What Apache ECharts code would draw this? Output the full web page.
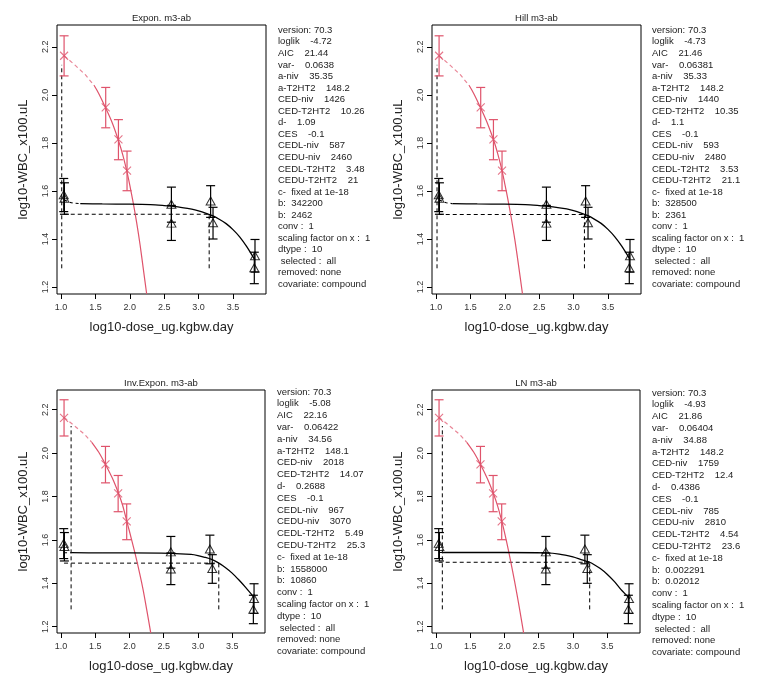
<!DOCTYPE html>
<html>
<head>
<meta charset="utf-8">
<script src="https://cdn.jsdelivr.net/npm/echarts@6/dist/echarts.min.js"></script>
<style>
html,body{margin:0;padding:0;background:#fff;}
#chart{width:762px;height:687px;}
</style>
</head>
<body>
<div id="chart"></div>
<script>
// ---------- data ----------
const panelTitles = ['Expon. m3-ab', 'Hill m3-ab', 'Inv.Expon. m3-ab', 'LN m3-ab'];
const xTicks = [1.0, 1.5, 2.0, 2.5, 3.0, 3.5];
const yTicks = [1.2, 1.4, 1.6, 1.8, 2.0, 2.2];
const xTitle = 'log10-dose_ug.kgbw.day';
const yTitle = 'log10-WBC_x100.uL';

// T2HT2 group (red crosses)
const redDose = [1.045, 1.65, 1.835, 1.96];
const redResp = [2.163, 1.948, 1.815, 1.685];
const redLow  = [2.079, 1.863, 1.730, 1.601];
const redHigh = [2.246, 2.031, 1.897, 1.766];

// niv group (black triangles)
const blackDose = [1.04, 1.05, 2.605, 2.605, 3.175, 3.21, 3.82, 3.81];
const blackResp = [1.584, 1.570, 1.545, 1.466, 1.558, 1.468, 1.330, 1.280];
const blackLow  = [1.514, 1.503, 1.470, 1.394, 1.490, 1.400, 1.262, 1.214];
const blackHigh = [1.652, 1.634, 1.616, 1.540, 1.622, 1.532, 1.398, 1.345];

// fitted curves, one pair per model
const expRedX = [1.045, 1.2, 1.35, 1.48, 1.55, 1.65, 1.75, 1.84, 1.9, 1.96, 2.0, 2.05, 2.1, 2.15, 2.2, 2.245];
const expRedY = [2.163, 2.125, 2.085, 2.04, 2.005, 1.945, 1.88, 1.806, 1.748, 1.678, 1.624, 1.55, 1.468, 1.375, 1.268, 1.172];
const expBlackX = [1.045, 1.15, 1.28, 1.6, 2.0, 2.3, 2.5, 2.7, 2.9, 3.0, 3.1, 3.2, 3.3, 3.4, 3.5, 3.6, 3.7, 3.82];
const expBlackY = [1.562, 1.551, 1.547, 1.546, 1.545, 1.543, 1.539, 1.534, 1.524, 1.517, 1.508, 1.497, 1.482, 1.464, 1.439, 1.408, 1.368, 1.312];

const hillRedX = [1.045, 1.2, 1.35, 1.48, 1.55, 1.65, 1.75, 1.84, 1.9, 1.96, 2.0, 2.05, 2.1, 2.15, 2.2, 2.257];
const hillRedY = [2.163, 2.125, 2.085, 2.04, 2.005, 1.945, 1.88, 1.81, 1.752, 1.685, 1.63, 1.558, 1.478, 1.39, 1.29, 1.172];
const hillBlackX = [1.045, 1.15, 1.24, 1.6, 2.0, 2.3, 2.5, 2.7, 2.9, 3.0, 3.1, 3.2, 3.3, 3.4, 3.5, 3.6, 3.7, 3.82];
const hillBlackY = [1.562, 1.551, 1.547, 1.546, 1.545, 1.543, 1.539, 1.534, 1.525, 1.518, 1.509, 1.498, 1.483, 1.465, 1.44, 1.409, 1.37, 1.315];

const invRedX = [1.045, 1.2, 1.35, 1.45, 1.55, 1.65, 1.75, 1.84, 1.9, 1.96, 2.0, 2.08, 2.15, 2.2, 2.26, 2.311];
const invRedY = [2.165, 2.125, 2.085, 2.05, 2.005, 1.948, 1.885, 1.815, 1.76, 1.688, 1.64, 1.54, 1.445, 1.37, 1.265, 1.172];
const invBlackX = [1.045, 1.148, 1.6, 2.0, 2.6, 2.9, 3.0, 3.1, 3.2, 3.3, 3.4, 3.5, 3.6, 3.7, 3.82];
const invBlackY = [1.541, 1.541, 1.54, 1.54, 1.538, 1.533, 1.528, 1.52, 1.51, 1.494, 1.473, 1.447, 1.415, 1.38, 1.335];

const lnRedX = [1.045, 1.2, 1.35, 1.45, 1.55, 1.65, 1.75, 1.84, 1.9, 1.96, 2.0, 2.06, 2.12, 2.18, 2.23, 2.28];
const lnRedY = [2.165, 2.125, 2.085, 2.05, 2.005, 1.948, 1.883, 1.813, 1.757, 1.688, 1.636, 1.55, 1.455, 1.355, 1.265, 1.172];
const lnBlackX = [1.045, 1.093, 1.6, 2.0, 2.6, 2.8, 3.0, 3.1, 3.2, 3.245, 3.3, 3.4, 3.5, 3.6, 3.7, 3.83];
const lnBlackY = [1.542, 1.542, 1.542, 1.542, 1.540, 1.535, 1.522, 1.512, 1.501, 1.497, 1.488, 1.468, 1.442, 1.41, 1.372, 1.33];

// where each fitted curve turns from dashed to solid
const redSolidFrom   = [1.48, 1.48, 1.45, 1.45];
const blackSolidFrom = [1.28, 1.24, 1.148, 1.093];

// CED / CES reference values (log10 scale)
const cedT2  = [1.011, 1.015, 1.148, 1.093];
const cedNiv = [3.154, 3.158, 3.305, 3.245];
const cesT2  = [2.125, 2.125, 2.125, 2.125];
const cesNiv = [1.503, 1.502, 1.493, 1.497];
const dropFoot = [1.278, 1.278, 1.280, 1.280];
const hStart = [1.04, 1.04, 1.045, 1.04];

// info texts
const expInfo = ['version: 70.3', 'loglik    -4.72', 'AIC    21.44', 'var-    0.0638', 'a-niv    35.35', 'a-T2HT2    148.2',
  'CED-niv    1426', 'CED-T2HT2    10.26', 'd-    1.09', 'CES    -0.1', 'CEDL-niv    587', 'CEDU-niv    2460',
  'CEDL-T2HT2    3.48', 'CEDU-T2HT2    21', 'c-  fixed at 1e-18', 'b:  342200', 'b:  2462', 'conv :  1',
  'scaling factor on x :  1', 'dtype :  10', ' selected :  all', 'removed: none', 'covariate: compound'];
const hillInfo = ['version: 70.3', 'loglik    -4.73', 'AIC    21.46', 'var-    0.06381', 'a-niv    35.33', 'a-T2HT2    148.2',
  'CED-niv    1440', 'CED-T2HT2    10.35', 'd-    1.1', 'CES    -0.1', 'CEDL-niv    593', 'CEDU-niv    2480',
  'CEDL-T2HT2    3.53', 'CEDU-T2HT2    21.1', 'c-  fixed at 1e-18', 'b:  328500', 'b:  2361', 'conv :  1',
  'scaling factor on x :  1', 'dtype :  10', ' selected :  all', 'removed: none', 'covariate: compound'];
const invInfo = ['version: 70.3', 'loglik    -5.08', 'AIC    22.16', 'var-    0.06422', 'a-niv    34.56', 'a-T2HT2    148.1',
  'CED-niv    2018', 'CED-T2HT2    14.07', 'd-    0.2688', 'CES    -0.1', 'CEDL-niv    967', 'CEDU-niv    3070',
  'CEDL-T2HT2    5.49', 'CEDU-T2HT2    25.3', 'c-  fixed at 1e-18', 'b:  1558000', 'b:  10860', 'conv :  1',
  'scaling factor on x :  1', 'dtype :  10', ' selected :  all', 'removed: none', 'covariate: compound'];
const lnInfo = ['version: 70.3', 'loglik    -4.93', 'AIC    21.86', 'var-    0.06404', 'a-niv    34.88', 'a-T2HT2    148.2',
  'CED-niv    1759', 'CED-T2HT2    12.4', 'd-    0.4386', 'CES    -0.1', 'CEDL-niv    785', 'CEDU-niv    2810',
  'CEDL-T2HT2    4.54', 'CEDU-T2HT2    23.6', 'c-  fixed at 1e-18', 'b:  0.002291', 'b:  0.02012', 'conv :  1',
  'scaling factor on x :  1', 'dtype :  10', ' selected :  all', 'removed: none', 'covariate: compound'];

// ---------- chart building ----------
const RED = '#DF536B';
const FONT = '"Liberation Sans", Arial, sans-serif';
const curvesRed = [[expRedX, expRedY], [hillRedX, hillRedY], [invRedX, invRedY], [lnRedX, lnRedY]];
const curvesBlack = [[expBlackX, expBlackY], [hillBlackX, hillBlackY], [invBlackX, invBlackY], [lnBlackX, lnBlackY]];
const infos = [expInfo, hillInfo, invInfo, lnInfo];

const grids = [
  {left: 57, top: 25, width: 209, height: 269},
  {left: 432, top: 25, width: 209, height: 269},
  {left: 57, top: 390, width: 208, height: 243},
  {left: 432, top: 390, width: 208, height: 243}
];
const infoPos = [[278, 24.5, 11.55], [652, 24.5, 11.55], [277, 386, 11.8], [652, 387, 11.8]];

function pairs(xs, ys) { return xs.map((x, i) => [x, ys[i]]); }
function part(xs, ys, from, solid) {
  const out = [];
  xs.forEach((x, i) => { if (solid ? x >= from - 1e-9 : x <= from + 1e-9) out.push([x, ys[i]]); });
  return out;
}
function errRender(params, api) {
  const x = api.value(0), lo = api.value(1), hi = api.value(2);
  const a = api.coord([x, lo]), b = api.coord([x, hi]);
  const w = 4.5;
  const style = {stroke: api.visual('color'), lineWidth: 1.2, fill: null};
  return {type: 'group', children: [
    {type: 'line', shape: {x1: a[0], y1: a[1], x2: b[0], y2: b[1]}, style},
    {type: 'line', shape: {x1: a[0] - w, y1: a[1], x2: a[0] + w, y2: a[1]}, style},
    {type: 'line', shape: {x1: b[0] - w, y1: b[1], x2: b[0] + w, y2: b[1]}, style}
  ]};
}

const option = {
  animation: false,
  backgroundColor: '#ffffff',
  grid: grids.map(g => Object.assign({show: true, borderColor: '#000', borderWidth: 1, backgroundColor: 'transparent'}, g)),
  xAxis: [], yAxis: [], series: [], graphic: []
};

for (let p = 0; p < 4; p++) {
  option.xAxis.push({
    type: 'value', gridIndex: p, min: 0.942, max: 3.98,
    axisLine: {show: false},
    axisTick: {show: true, length: 5, customValues: xTicks, lineStyle: {color: '#000'}},
    axisLabel: {customValues: xTicks, formatter: v => v.toFixed(1), fontSize: 9, color: '#333', fontFamily: FONT, margin: 9},
    splitLine: {show: false},
    name: xTitle, nameLocation: 'middle', nameGap: 27,
    nameTextStyle: {fontSize: 13, color: '#222', fontFamily: FONT}
  });
  option.yAxis.push({
    type: 'value', gridIndex: p, min: 1.171, max: 2.291,
    axisLine: {show: false},
    axisTick: {show: true, length: 5, customValues: yTicks, lineStyle: {color: '#000'}},
    axisLabel: {customValues: yTicks, formatter: v => v.toFixed(1), fontSize: 9, color: '#333', fontFamily: FONT, rotate: 90, margin: 7},
    splitLine: {show: false},
    name: yTitle, nameLocation: 'middle', nameGap: 27, nameRotate: 90,
    nameTextStyle: {fontSize: 13, color: '#222', fontFamily: FONT}
  });

  const ax = {xAxisIndex: p, yAxisIndex: p};
  const [rx, ry] = curvesRed[p];
  const [bx, by] = curvesBlack[p];

  // reference dashed lines
  const dashStyle = {color: '#000', width: 1, type: [4, 3]};
  [
    [[cedT2[p], dropFoot[p]], [cedT2[p], cesT2[p]]],
    [[hStart[p], cesNiv[p]], [cedNiv[p], cesNiv[p]]],
    [[cedNiv[p], dropFoot[p]], [cedNiv[p], cesNiv[p]]]
  ].forEach(seg => option.series.push(Object.assign({
    type: 'line', data: seg, showSymbol: false, symbol: 'none', lineStyle: dashStyle, z: 2
  }, ax)));

  // fitted curves
  option.series.push(Object.assign({type: 'line', data: part(rx, ry, redSolidFrom[p], false), symbol: 'none',
    lineStyle: {color: RED, width: 1.2, type: [4, 3], opacity: 0.7}, z: 3}, ax));
  option.series.push(Object.assign({type: 'line', data: part(rx, ry, redSolidFrom[p], true), symbol: 'none', smooth: 0.3,
    lineStyle: {color: RED, width: 1.2}, z: 3}, ax));
  option.series.push(Object.assign({type: 'line', data: part(bx, by, blackSolidFrom[p], false), symbol: 'none',
    lineStyle: {color: '#000', width: 1.1, type: [3, 3]}, z: 3}, ax));
  option.series.push(Object.assign({type: 'line', data: part(bx, by, blackSolidFrom[p], true), symbol: 'none', smooth: 0.3,
    lineStyle: {color: '#000', width: 1.3}, z: 3}, ax));

  // error bars
  option.series.push(Object.assign({type: 'custom', renderItem: errRender, encode: {x: 0, y: [1, 2]},
    itemStyle: {color: RED}, data: redDose.map((x, i) => [x, redLow[i], redHigh[i]]), z: 4}, ax));
  option.series.push(Object.assign({type: 'custom', renderItem: errRender, encode: {x: 0, y: [1, 2]},
    itemStyle: {color: '#000'}, data: blackDose.map((x, i) => [x, blackLow[i], blackHigh[i]]), z: 4}, ax));

  // markers
  option.series.push(Object.assign({type: 'scatter', data: pairs(redDose, redResp),
    symbol: 'path://M0 0L10 10M10 0L0 10', symbolSize: 8,
    itemStyle: {color: 'none', borderColor: RED, borderWidth: 1.1}, z: 5}, ax));
  option.series.push(Object.assign({type: 'scatter', data: pairs(blackDose, blackResp),
    symbol: 'triangle', symbolSize: [9, 8],
    itemStyle: {color: 'none', borderColor: '#000', borderWidth: 1}, z: 5}, ax));

  // panel title
  const g = grids[p];
  option.graphic.push({type: 'text', x: g.left + g.width / 2, y: g.top - 7,
    style: {text: panelTitles[p], font: '9.5px ' + FONT, fill: '#222', align: 'center', verticalAlign: 'middle'}});
  // info block
  option.graphic.push({type: 'text', x: infoPos[p][0], y: infoPos[p][1],
    style: {text: infos[p].join('\n'), font: '9.5px ' + FONT, fill: '#222', lineHeight: infoPos[p][2], verticalAlign: 'top', align: 'left'}});
}

const chart = echarts.init(document.getElementById('chart'), null, {renderer: 'canvas'});
chart.setOption(option);
</script>
</body>
</html>
